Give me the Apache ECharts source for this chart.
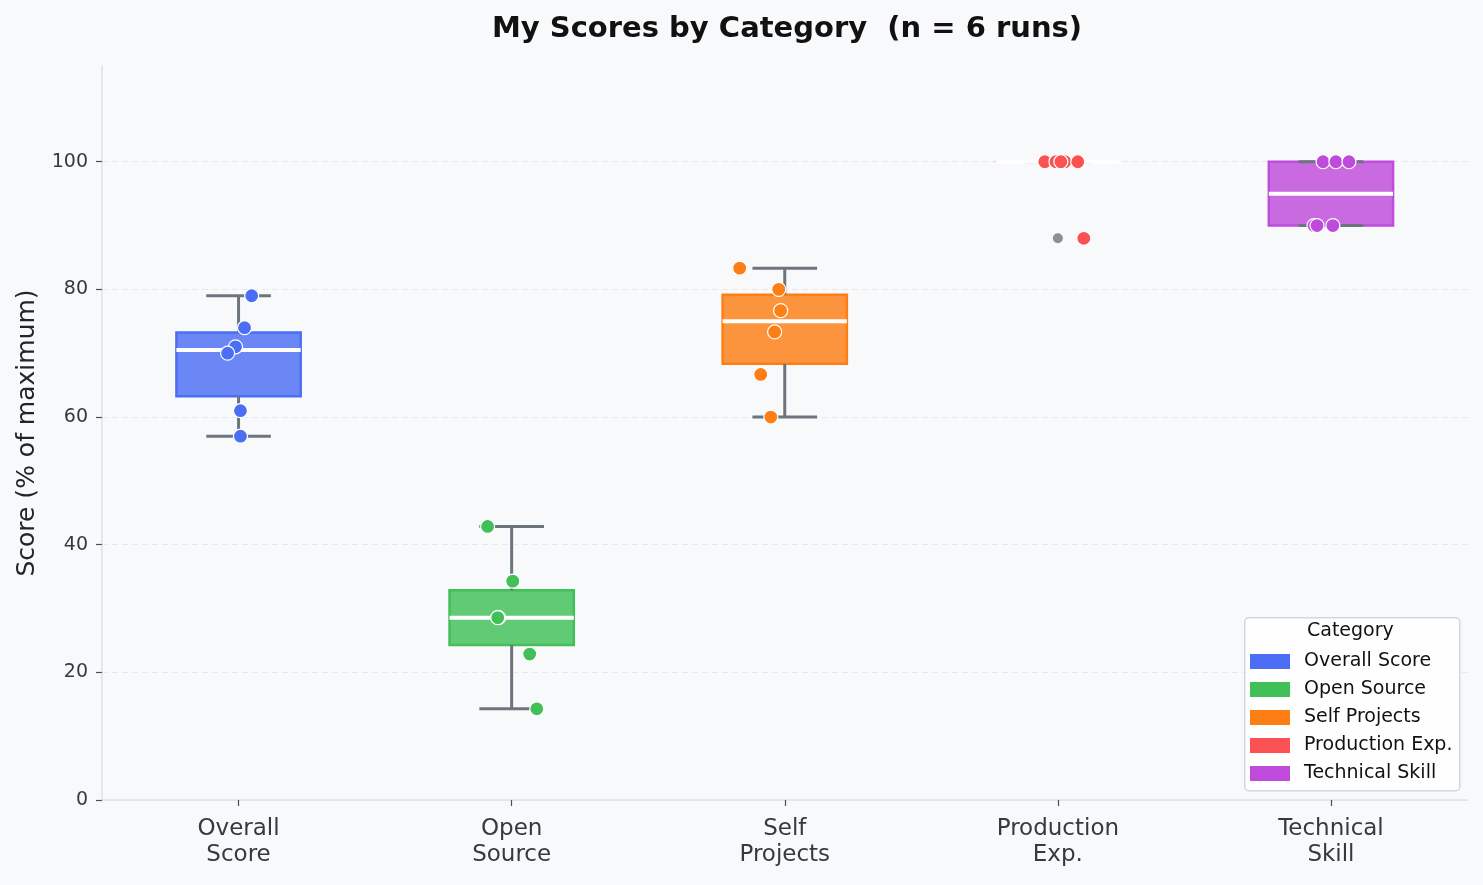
<!DOCTYPE html>
<html>
<head>
<meta charset="utf-8">
<script src="https://cdn.jsdelivr.net/npm/echarts@6/dist/echarts.min.js"></script>
<style>
html,body{margin:0;padding:0;background:#f8f9fa;}
#chart{width:1483px;height:885px;}
</style>
</head>
<body>
<div id="chart"></div>
<script>
const CATEGORIES = ['Overall Score', 'Open Source', 'Self Projects', 'Production Exp.', 'Technical Skill'];
const AXIS_LABELS = ['Overall\nScore', 'Open\nSource', 'Self\nProjects', 'Production\nExp.', 'Technical\nSkill'];
const COLORS = ['#4c6ef5', '#40c057', '#fd7e14', '#fa5252', '#be4bdb'];
const FILLS = ['rgba(76,110,245,0.82)', 'rgba(64,192,87,0.82)', 'rgba(253,126,20,0.82)', 'rgba(250,82,82,0.82)', 'rgba(190,75,219,0.82)'];

const SCORES_OVERALL    = [79, 74, 71, 70, 61, 57];
const SCORES_OPEN       = [42.86, 34.29, 28.57, 28.57, 22.86, 14.29];
const SCORES_SELF       = [83.33, 80, 76.67, 73.33, 66.67, 60];
const SCORES_PRODUCTION = [100, 100, 100, 100, 100, 88];
const SCORES_TECHNICAL  = [100, 100, 100, 90, 90, 90];

// horizontal jitter of each point (in category widths)
const JITTER_OVERALL    = [0.048, 0.022, -0.011, -0.040, 0.007, 0.007];
const JITTER_OPEN       = [-0.088, 0.004, -0.048, -0.051, 0.066, 0.092];
const JITTER_SELF       = [-0.165, -0.022, -0.015, -0.037, -0.088, -0.051];
const JITTER_PRODUCTION = [-0.048, -0.007, 0.026, 0.073, 0.011, 0.095];
const JITTER_TECHNICAL  = [-0.029, 0.018, 0.066, -0.062, -0.051, 0.007];

const Y_TICKS = [0, 20, 40, 60, 80, 100];

const ALL_SCORES = [SCORES_OVERALL, SCORES_OPEN, SCORES_SELF, SCORES_PRODUCTION, SCORES_TECHNICAL];
const ALL_JITTER = [JITTER_OVERALL, JITTER_OPEN, JITTER_SELF, JITTER_PRODUCTION, JITTER_TECHNICAL];

function quantile(sorted, p) {
  const pos = (sorted.length - 1) * p;
  const lo = Math.floor(pos), hi = Math.ceil(pos);
  return sorted[lo] + (sorted[hi] - sorted[lo]) * (pos - lo);
}
const boxData = [];
const flierData = [];
ALL_SCORES.forEach((arr, i) => {
  const s = arr.slice().sort((a, b) => a - b);
  const q1 = quantile(s, 0.25), med = quantile(s, 0.5), q3 = quantile(s, 0.75);
  const iqr = q3 - q1;
  const inside = s.filter(v => v >= q1 - 1.5 * iqr && v <= q3 + 1.5 * iqr);
  const low = Math.min(...inside), high = Math.max(...inside);
  s.forEach(v => { if (v < q1 - 1.5 * iqr || v > q3 + 1.5 * iqr) flierData.push([i, v]); });
  boxData.push([i, low, q1, med, q3, high]);
});

const FONT = 'DejaVu Sans';

function renderBox(params, api) {
  const i = api.value(0);
  const band = api.size([1, 0])[0];
  const bw = band * 0.455;
  const cw = bw * 0.52;
  const x = api.coord([i, api.value(3)])[0];
  const yLow = api.coord([i, api.value(1)])[1];
  const yQ1 = api.coord([i, api.value(2)])[1];
  const yMed = api.coord([i, api.value(3)])[1];
  const yQ3 = api.coord([i, api.value(4)])[1];
  const yHigh = api.coord([i, api.value(5)])[1];
  const gray = '#6c757d';
  const line = (x1, y1, x2, y2, stroke, w) => ({
    type: 'line', shape: { x1, y1, x2, y2 },
    style: { stroke, lineWidth: w, lineCap: 'butt' }
  });
  return {
    type: 'group',
    children: [
      { type: 'rect', shape: { x: x - bw / 2, y: yQ3, width: bw, height: yQ1 - yQ3 },
        style: { fill: FILLS[i], stroke: COLORS[i], lineWidth: 2.5 } },
      line(x, yQ3, x, yHigh, gray, 3),
      line(x, yQ1, x, yLow, gray, 3),
      line(x - cw / 2, yHigh, x + cw / 2, yHigh, gray, 3),
      line(x - cw / 2, yLow, x + cw / 2, yLow, gray, 3),
      line(x - bw / 2, yMed, x + bw / 2, yMed, '#ffffff', 4)
    ]
  };
}

const pointSeries = CATEGORIES.map((name, i) => ({
  name,
  type: 'scatter',
  xAxisIndex: 1,
  yAxisIndex: 0,
  symbolSize: 14,
  z: 5,
  itemStyle: { color: COLORS[i], borderColor: '#ffffff', borderWidth: 1.2, opacity: 1 },
  data: ALL_SCORES[i].map((v, k) => [i + ALL_JITTER[i][k], v])
}));

const chart = echarts.init(document.getElementById('chart'));
chart.setOption({
  backgroundColor: '#f8f9fa',
  animation: false,
  textStyle: { fontFamily: FONT },
  title: {
    text: 'My Scores by Category  (n = 6 runs)',
    left: 782, top: 10, textAlign: 'center',
    textStyle: { fontFamily: FONT, fontSize: 29, fontWeight: 'bold', color: '#111111' }
  },
  grid: { left: 102, right: 15.5, top: 66, bottom: 85 },
  xAxis: [
    {
      type: 'category',
      data: AXIS_LABELS,
      boundaryGap: true,
      axisLine: { show: true, onZero: false, lineStyle: { color: '#dee2e6', width: 1.5 } },
      axisTick: { show: true, alignWithLabel: true, length: 6, lineStyle: { color: '#495057', width: 1.2 } },
      axisLabel: { fontFamily: FONT, fontSize: 23, color: '#343a40', lineHeight: 26, margin: 16 },
      splitLine: { show: false }
    },
    { type: 'value', min: -0.5, max: 4.5, show: false }
  ],
  yAxis: {
    type: 'value',
    min: 0, max: 115, interval: 20,
    name: 'Score (% of maximum)',
    nameLocation: 'middle',
    nameGap: 62,
    nameTextStyle: { fontFamily: FONT, fontSize: 25, color: '#212529' },
    axisLine: { show: true, onZero: false, lineStyle: { color: '#dee2e6', width: 1.5 } },
    axisTick: { show: true, customValues: Y_TICKS, length: 6, lineStyle: { color: '#495057', width: 1.2 } },
    axisLabel: { customValues: Y_TICKS, fontFamily: FONT, fontSize: 19, color: '#343a40', margin: 14 },
    splitLine: { show: true, lineStyle: { type: [6, 4], color: '#e6e8eb', width: 1 } }
  },
  legend: {
    data: CATEGORIES,
    orient: 'vertical',
    left: 1245, top: 647,
    itemWidth: 40, itemHeight: 15, itemGap: 9,
    icon: 'rect',
    itemStyle: { borderWidth: 0 },
    textStyle: { fontFamily: FONT, fontSize: 19, color: '#111111', padding: [0, 0, 0, 9] },
    selectedMode: false
  },
  graphic: [
    { type: 'rect', z: 1, left: 1244, top: 617,
      shape: { width: 215, height: 173, r: 4 },
      style: { fill: 'rgba(255,255,255,0.85)', stroke: '#d3d6da', lineWidth: 1.5 } },
    { type: 'text', z: 10, left: 1307, top: 622,
      style: { text: 'Category', fontFamily: FONT, fontSize: 19, fill: '#111111' } }
  ],
  series: [
    {
      type: 'custom',
      xAxisIndex: 0, yAxisIndex: 0,
      z: 2,
      renderItem: renderBox,
      encode: { x: 0, y: [1, 2, 3, 4, 5] },
      data: boxData
    },
    {
      type: 'scatter',
      xAxisIndex: 0, yAxisIndex: 0,
      symbolSize: 10, z: 4,
      itemStyle: { color: '#6c757d' },
      data: flierData
    }
  ].concat(pointSeries)
});
</script>
</body>
</html>
